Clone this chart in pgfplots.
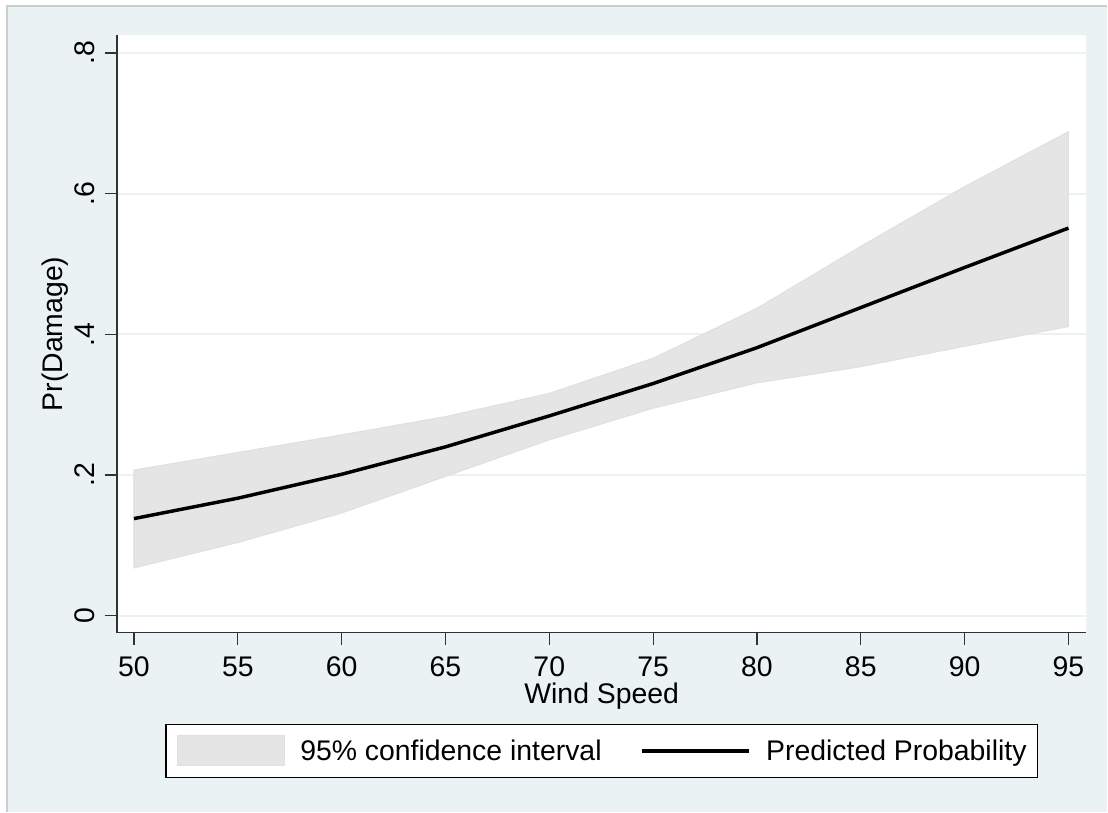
\documentclass[border=0pt]{standalone}
\usepackage{pgfplots}
\pgfplotsset{compat=1.18}
\usepackage{pgfplotstable}
\usepackage{fontspec}
\setmainfont{Liberation Sans}

\definecolor{bluishgray}{RGB}{234,242,243}
\definecolor{cigray}{RGB}{229,229,229}
\definecolor{ciedge}{RGB}{224,224,224}
\definecolor{framegray}{RGB}{205,205,205}
\definecolor{axisgray}{RGB}{50,50,50}

% predicted probability of damage
\pgfplotstableread{
x   pr
50  0.138
55  0.167
60  0.201
65  0.240
70  0.284
75  0.330
80  0.381
85  0.438
90  0.495
95  0.551
}\pred

% 95% confidence band: upper bound left to right, then lower bound right to left
\pgfplotstableread{
x   y
50  0.207
55  0.232
60  0.257
65  0.283
70  0.316
75  0.366
80  0.437
85  0.525
90  0.610
95  0.688
95  0.411
90  0.383
85  0.354
80  0.331
75  0.295
70  0.250
65  0.198
60  0.146
55  0.104
50  0.068
}\band

\begin{document}
\begin{tikzpicture}[font=\fontsize{21.3}{25}\selectfont]
  % graph region
  \fill[white] (0pt,0pt) rectangle (831pt,609pt);
  \fill[bluishgray] (5.25pt,0pt) rectangle (831pt,604.5pt);
  \draw[framegray, line width=0.8pt] (5.25pt,0pt) -- (5.25pt,604.5pt) -- (831pt,604.5pt);

  \begin{axis}[
    at={(87.75pt,134.25pt)}, anchor=south west,
    scale only axis, width=727.5pt, height=448.5pt,
    xmin=49.18, xmax=95.87, ymin=-0.0242, ymax=0.8256,
    axis x line*=bottom, axis y line*=left,
    axis line style={axisgray, line width=1.2pt, -},
    axis background/.style={fill=white},
    xtick={50,55,60,65,70,75,80,85,90,95},
    xticklabels={50,55,60,65,70,75,80,85,90,95},
    ytick={0,0.2,0.4,0.6,0.8},
    yticklabels={0,.2,.4,.6,.8},
    tick align=outside, major tick length=9pt,
    major tick style={axisgray, line width=0.9pt},
    ymajorgrids, major grid style={bluishgray, line width=1.5pt},
    tick label style={font=\fontsize{21.3}{25}\selectfont},
    xticklabel style={anchor=north, inner sep=0pt, yshift=-9pt},
    yticklabel style={xshift=-7.5pt, rotate=90, anchor=south, inner sep=0pt},
    xlabel={Wind Speed},
    xlabel style={at={(axis description cs:0.5,-0.0836)}, anchor=north, inner sep=0pt},
    ylabel={Pr(Damage)},
    ylabel style={at={(axis description cs:-0.0773,0.5)}, rotate=0, anchor=north, inner sep=0pt},
    label style={font=\fontsize{21.3}{25}\selectfont},
    legend style={at={(axis description cs:0.5,-0.1522)}, anchor=north,
      draw=black, line width=0.9pt, fill=white,
      inner xsep=8.25pt, inner ysep=8.25pt,
      column sep=11.5pt,
      /tikz/every even column/.append style={column sep=29pt},
      nodes={inner sep=0pt, anchor=west},
      font=\fontsize{21.3}{25}\selectfont},
    legend columns=2,
  ]
    \addplot[fill=cigray, draw=ciedge, line width=0.8pt,
      legend image code/.code={
        \draw[fill=cigray, draw=ciedge, line width=0.8pt] (0pt,-11.25pt) rectangle (80.25pt,11.25pt);}]
      table[x=x,y=y]{\band} -- cycle;
    \addlegendentry{95\% confidence interval}
    \addplot[black, line width=2.6pt,
      legend image code/.code={
        \draw[black, line width=2.7pt] (0pt,0pt) -- (80.25pt,0pt);}]
      table[x=x,y=pr]{\pred};
    \addlegendentry{Predicted Probability\hspace{7pt}}
  \end{axis}
\end{tikzpicture}
\end{document}
